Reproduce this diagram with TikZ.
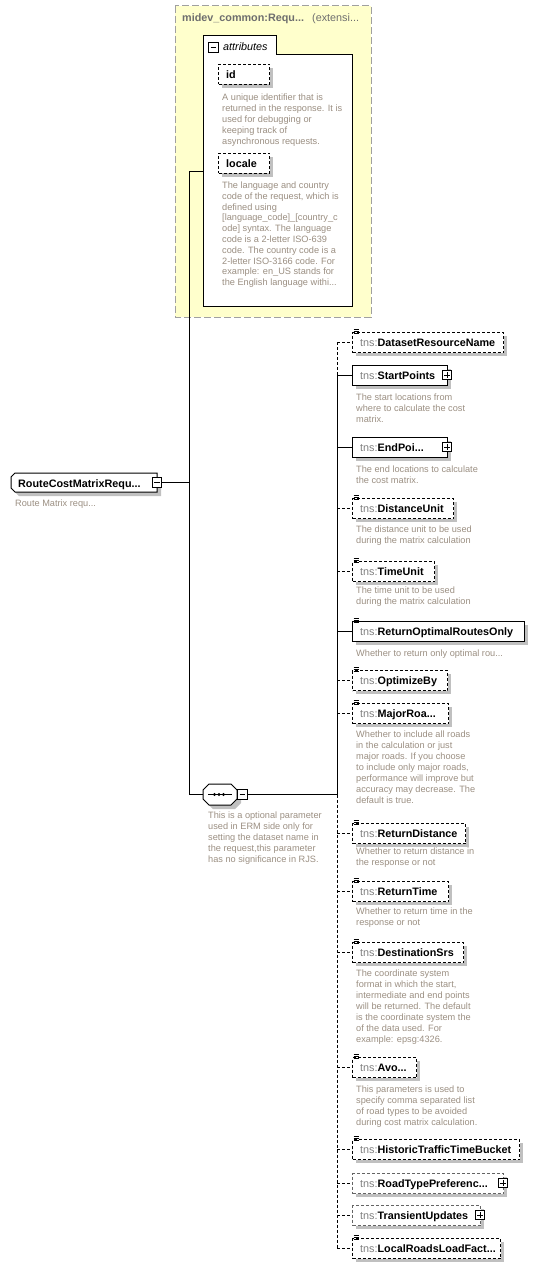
\documentclass[tikz,border=0pt]{standalone}
\usepackage{fontspec}
\setmainfont{Liberation Sans}
\definecolor{dsccol}{RGB}{155,143,130}
\definecolor{tnscol}{RGB}{128,128,128}
\definecolor{ttlcol}{RGB}{110,110,110}
\definecolor{shdcol}{RGB}{192,192,192}
\definecolor{yelfill}{RGB}{255,255,204}
\definecolor{yelline}{RGB}{160,160,160}
\definecolor{lightborder}{RGB}{100,100,100}
\tikzset{
  dpat/.style={dash pattern=on 3pt off 2pt},
  conn/.style={line width=1pt},
  lbl/.style={inner sep=0pt, anchor=base west},
  nmfont/.style={font=\fontsize{10.8}{12}\selectfont},
  dsc/.style={inner sep=0pt, anchor=north west, align=left, text=dsccol, font=\fontsize{9.2}{11}\selectfont},
  pm/.style={draw, fill=white, minimum size=9.5pt, inner sep=0pt, line width=0.8pt},
  ebox/.style={draw, fill=white, line width=1pt, anchor=north west, inner sep=0pt, minimum height=20pt},
}
% #1 name, #2 top, #3 right, #4 dash style, #5 icon, #6 plus, #7 text, #8 border colour
\newcommand\xelem[8]{%
  \draw[conn,#4] (bus |- 0,#2+10) -- (352,#2+10);
  \fill[shdcol] (356,#2+4) rectangle (#3+4,#2+24);
  \node[ebox,#4,draw=#8,minimum width={#3-352}] (#1) at (352,#2) {};
  \ifnum#5=1 \draw[line width=0.75pt] (353.5,#2-3) -- (358.5,#2-3) (353.5,#2-0.6) -- (358.5,#2-0.6) (353.5,#2+1.8) -- (358.5,#2+1.8);\fi
  \node[lbl,nmfont] (#1-t) at (360,#2+14) {\textcolor{tnscol}{tns:}\textbf{#7}};
  \ifnum#6=1
    \node[pm] (#1-p) at (#3,#2+10) {};
    \draw[line width=0.8pt] ([xshift=-2.8pt]#1-p.center) -- ([xshift=2.8pt]#1-p.center) ([yshift=-2.8pt]#1-p.center) -- ([yshift=2.8pt]#1-p.center);
  \fi
}
% #1 name, #2 x, #3 first baseline, #4 text
\newcommand\xdesc[4]{\node[dsc] (#1) at (#2,#3-7.7) {\strut #4};}
\begin{document}
\begin{tikzpicture}[x=1pt,y=-1pt]
\useasboundingbox (0,0) rectangle (550,1268);
\coordinate (bus) at (337,0);

% extension box
\draw[fill=yelfill, draw=yelline, line width=1pt, dash pattern=on 7pt off 3pt] (175,6) rectangle (371,317);
\node[lbl,nmfont,text=ttlcol] (ttl) at (182,21.7) {\textbf{midev\_common:Requ...}};
\node[lbl,nmfont,text=ttlcol] (ttl2) at (312,21.7) {(extensi...};
% attributes panel
\draw[fill=white, line width=1pt] (203,36) -- (276,36) -- (276,55) -- (352,55) -- (352,306) -- (203,306) -- cycle;
\node[pm] (attrm) at (213.5,47.5) {};
\draw[line width=0.8pt] ([xshift=-2.8pt]attrm.center) -- ([xshift=2.8pt]attrm.center);
\node[lbl,nmfont] (attrt) at (223,50.7) {\itshape attributes};
\coordinate (attrL) at (203,172);

% id
\fill[shdcol] (222,68) rectangle (273,88);
\node[ebox,dpat,minimum width=51pt] (id) at (218,64) {};
\node[lbl,nmfont] (id-t) at (226,78.7) {\textbf{id}};
\xdesc{id-d}{222}{100}{A unique identifier that is\\returned in the response. It is\\used for debugging or\\keeping track of\\asynchronous requests.}
% locale
\fill[shdcol] (222,157) rectangle (273,177);
\node[ebox,dpat,minimum width=51pt] (locale) at (218,153) {};
\node[lbl,nmfont] (locale-t) at (226,167.7) {\textbf{locale}};
\node[dsc,font=\fontsize{9.2}{10.8}\selectfont] (locale-d) at (222,188.3-7.6) {\strut The language and country\\code of the request, which is\\defined using\\{[}language\_code{]}\_{[}country\_c\\ode{]} syntax. The language\\code is a 2-letter ISO-639\\code. The country code is a\\2-letter ISO-3166 code. For\\example: en\_US stands for\\the English language withi...};

% root element
\node[inner sep=0pt, minimum width=146pt, minimum height=19pt, anchor=north west] (root) at (11,473) {};
\fill[shdcol] (19,477) -- (161,477) -- (161,496) -- (19,496) -- (15,492) -- (15,481) -- cycle;
\draw[fill=white, line width=1pt] (15,473) -- (157,473) -- (157,492) -- (15,492) -- (11,488) -- (11,477) -- cycle;
\node[lbl,nmfont] (root-t) at (18,487.3) {\textbf{RouteCostMatrixRequ...}};
\node[pm] (rootm) at (157,482.5) {};
\draw[line width=0.8pt] ([xshift=-2.8pt]rootm.center) -- ([xshift=2.8pt]rootm.center);
\xdesc{root-d}{15}{506.7}{Route Matrix requ...}

% sequence compositor
\node[inner sep=0pt, minimum width=34pt, minimum height=21pt] (seq) at (220,794.5) {};
\fill[shdcol] (213,788) -- (235,788) -- (241,794) -- (241,803) -- (235,809) -- (213,809) -- (207,803) -- (207,794) -- cycle;
\draw[fill=white, line width=1pt] (209,784) -- (231,784) -- (237,790) -- (237,799) -- (231,805) -- (209,805) -- (203,799) -- (203,790) -- cycle;
\draw[line width=1pt] (208,794.5) -- (232,794.5);
\fill (214.5,794.5) circle (1.6) (219,794.5) circle (1.6) (223.5,794.5) circle (1.6);
\node[pm] (seqm) at (242.5,794.5) {};
\draw[line width=0.8pt] ([xshift=-2.8pt]seqm.center) -- ([xshift=2.8pt]seqm.center);
\xdesc{seq-d}{208}{818.3}{This is a optional parameter\\used in ERM side only for\\setting the dataset name in\\the request,this parameter\\has no significance in RJS.}

% connectors of root
\coordinate (busA) at (189,172);
\draw[conn] (rootm.east) -- (rootm.east -| busA);
\draw[conn] (attrL) -- (busA) -- (busA |- seq.west) -- (seq.west);
\draw[conn] (seqm.east) -- (seqm.east -| bus);
% vertical bus of the sequence
\draw[conn,dpat] (337,342) -- (337,375);
\draw[conn] (337,375) -- (337,794.5);
\draw[conn,dpat] (337,794.5) -- (337,1248);

% children
\xelem{c1}{332}{503}{dpat}{1}{0}{DatasetResourceName}{black}
\xelem{c2}{365}{447}{solid}{0}{1}{StartPoints}{black}
\xdesc{c2-d}{356}{400}{The start locations from\\where to calculate the cost\\matrix.}
\xelem{c3}{437}{447}{solid}{0}{1}{EndPoi...}{black}
\xdesc{c3-d}{356}{472.7}{The end locations to calculate\\the cost matrix.}
\xelem{c4}{498}{453}{dpat}{1}{0}{DistanceUnit}{black}
\xdesc{c4-d}{356}{532.7}{The distance unit to be used\\during the matrix calculation}
\xelem{c5}{561}{434}{dpat}{1}{0}{TimeUnit}{black}
\xdesc{c5-d}{356}{593}{The time unit to be used\\during the matrix calculation}
\xelem{c6}{621}{524}{solid}{1}{0}{ReturnOptimalRoutesOnly}{black}
\xdesc{c6-d}{356}{656}{Whether to return only optimal rou...}
\xelem{c7}{670}{447}{dpat}{1}{0}{OptimizeBy}{black}
\xelem{c8}{703}{448}{dpat}{1}{0}{MajorRoa...}{black}
\xdesc{c8-d}{356}{737.7}{Whether to include all roads\\in the calculation or just\\major roads. If you choose\\to include only major roads,\\performance will improve but\\accuracy may decrease. The\\default is true.}
\xelem{c9}{823}{465}{dpat}{1}{0}{ReturnDistance}{black}
\xdesc{c9-d}{356}{854.3}{Whether to return distance in\\the response or not}
\xelem{c10}{881}{448}{dpat}{1}{0}{ReturnTime}{black}
\xdesc{c10-d}{356}{914.3}{Whether to return time in the\\response or not}
\xelem{c11}{942}{463}{dpat}{1}{0}{DestinationSrs}{black}
\xdesc{c11-d}{356}{976.7}{The coordinate system\\format in which the start,\\intermediate and end points\\will be returned. The default\\is the coordinate system the\\of the data used. For\\example: epsg:4326.}
\xelem{c12}{1057}{416}{dpat}{1}{0}{Avo...}{black}
\xdesc{c12-d}{356}{1092.7}{This parameters is used to\\specify comma separated list\\of road types to be avoided\\during cost matrix calculation.}
\xelem{c13}{1139}{519}{dpat}{1}{0}{HistoricTrafficTimeBucket}{black}
\xelem{c14}{1173}{503}{dpat}{0}{1}{RoadTypePreferenc...}{lightborder}
\xelem{c15}{1205}{480}{dpat}{0}{1}{TransientUpdates}{lightborder}
\xelem{c16}{1238}{500}{dpat}{1}{0}{LocalRoadsLoadFact...}{black}
\end{tikzpicture}
\end{document}
